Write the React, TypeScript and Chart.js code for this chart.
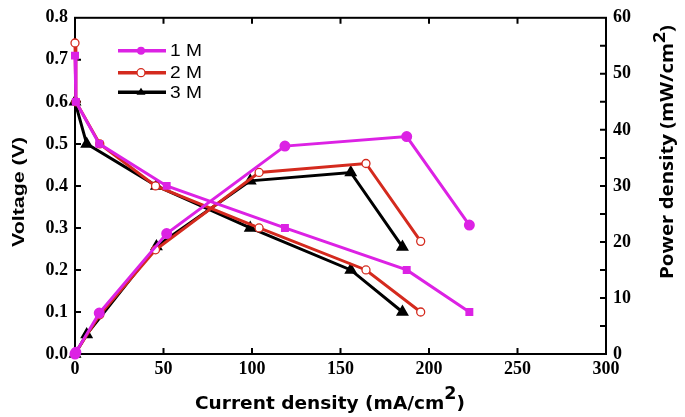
import React, { useEffect, useRef } from "react";
import { Chart, registerables } from "chart.js";

Chart.register(...registerables);

// ---- data ----
const current1M = [0, 0.5, 13.7, 51.8, 118.6, 187.4, 222.8];
const voltage1M = [0.71, 0.6, 0.5, 0.4, 0.3, 0.2, 0.1];
const power1M = [0, 0.3, 7.3, 21.5, 37.1, 38.8, 23.0];

const current2M = [0, 0.5, 14, 45.5, 104, 164.4, 195.3];
const voltage2M = [0.74, 0.6, 0.5, 0.4, 0.3, 0.2, 0.1];
const power2M = [0, 0.3, 7.0, 18.6, 32.4, 34.0, 20.1];

const current3M = [0, 6.6, 46, 99, 155.8, 185];
const voltage3M = [0.6, 0.5, 0.4, 0.3, 0.2, 0.1];
const power3M = [0, 3.5, 19.2, 30.9, 32.4, 19.1];

const seriesLabels = ["1 M", "2 M", "3 M"];
const xTickValues = [0, 50, 100, 150, 200, 250, 300];
const yTickValues = [0, 0.1, 0.2, 0.3, 0.4, 0.5, 0.6, 0.7, 0.8];
const y1TickValues = [0, 5, 10, 15, 20, 25, 30, 35, 40, 45, 50, 55, 60];

const MAGENTA = "#dc22e4";
const RED = "#d42a1e";
const BLACK = "#000000";

const pts = (xs: number[], ys: number[]) => xs.map((x, i) => ({ x, y: ys[i] }));

function drawFitted(
  ctx: CanvasRenderingContext2D,
  cx: number,
  cy: number,
  angle: number,
  font: string,
  supFont: string,
  main: string,
  sup: string,
  tail: string,
  targetLen: number,
  supRaise: number
) {
  ctx.save();
  ctx.font = font;
  const w1 = ctx.measureText(main).width;
  const w3 = ctx.measureText(tail).width;
  ctx.font = supFont;
  const w2 = sup ? ctx.measureText(sup).width : 0;
  const total = w1 + w2 + w3;
  const s = targetLen / total;
  ctx.translate(cx, cy);
  ctx.rotate(angle);
  ctx.scale(s, 1);
  ctx.fillStyle = "#000";
  ctx.textBaseline = "middle";
  ctx.textAlign = "left";
  let x = -total / 2;
  ctx.font = font;
  ctx.fillText(main, x, 0);
  x += w1;
  if (sup) {
    ctx.font = supFont;
    ctx.fillText(sup, x, -supRaise);
    x += w2;
  }
  ctx.font = font;
  ctx.fillText(tail, x, 0);
  ctx.restore();
}

const framePlugin = {
  id: "frameAndExtras",
  beforeDatasetsDraw(chart: any) {
    const { ctx, chartArea } = chart;
    const { left, right, top, bottom } = chartArea;
    const xs = chart.scales.x;
    const ys = chart.scales.y;
    const y1s = chart.scales.y1;
    ctx.save();
    ctx.strokeStyle = "#000";
    ctx.lineWidth = 2;
    ctx.strokeRect(left, top, right - left, bottom - top);
    ctx.beginPath();
    xTickValues.slice(1, -1).forEach((v) => {
      const px = xs.getPixelForValue(v);
      ctx.moveTo(px, bottom);
      ctx.lineTo(px, bottom - 6);
      ctx.moveTo(px, top);
      ctx.lineTo(px, top + 6);
    });
    yTickValues.slice(1, -1).forEach((v) => {
      const py = ys.getPixelForValue(v);
      ctx.moveTo(left, py);
      ctx.lineTo(left + 6, py);
    });
    y1TickValues.slice(1, -1).forEach((v) => {
      const py = y1s.getPixelForValue(v);
      ctx.moveTo(right, py);
      ctx.lineTo(right - 6, py);
    });
    ctx.stroke();
    ctx.restore();
  },
  afterDraw(chart: any) {
    const { ctx } = chart;
    // legend
    const rows = [50.7, 72.7, 92.3];
    const colors = [MAGENTA, RED, BLACK];
    rows.forEach((ry, i) => {
      ctx.save();
      ctx.strokeStyle = colors[i];
      ctx.lineWidth = 3.5;
      ctx.beginPath();
      ctx.moveTo(118, ry);
      ctx.lineTo(166, ry);
      ctx.stroke();
      const mx = 141;
      if (i === 0) {
        ctx.fillStyle = MAGENTA;
        ctx.beginPath();
        ctx.arc(mx, ry, 4, 0, Math.PI * 2);
        ctx.fill();
      } else if (i === 1) {
        ctx.fillStyle = "#fff";
        ctx.strokeStyle = RED;
        ctx.lineWidth = 1.3;
        ctx.beginPath();
        ctx.arc(mx, ry, 4, 0, Math.PI * 2);
        ctx.fill();
        ctx.stroke();
      } else {
        ctx.fillStyle = BLACK;
        ctx.beginPath();
        ctx.moveTo(mx, ry - 4.5);
        ctx.lineTo(mx + 4.5, ry + 2.5);
        ctx.lineTo(mx - 4.5, ry + 2.5);
        ctx.closePath();
        ctx.fill();
      }
      ctx.restore();
      ctx.save();
      ctx.font = '17px "Liberation Sans"';
      const w = ctx.measureText(seriesLabels[i]).width;
      ctx.translate(170, ry);
      ctx.scale(32 / w, 1);
      ctx.fillStyle = "#000";
      ctx.textBaseline = "middle";
      ctx.fillText(seriesLabels[i], 0, 1);
      ctx.restore();
    });
    // axis titles
    drawFitted(ctx, 19, 192, -Math.PI / 2, 'bold 17px "Liberation Sans"', 'bold 17px "Liberation Sans"', "Voltage (V)", "", "", 110, 0);
    drawFitted(ctx, 668, 152, -Math.PI / 2, 'bold 17px "Open Sans"', 'bold 16px "Open Sans"', "Power density (mW/cm", "2", ")", 254, 8);
    drawFitted(ctx, 330, 404, 0, 'bold 18px "DejaVu Sans"', 'bold 17px "DejaVu Sans"', "Current density (mA/cm", "2", ")", 270, 9);
  },
};

export default function App() {
  const ref = useRef<HTMLCanvasElement | null>(null);
  useEffect(() => {
    if (!ref.current) return;
    const tickFont = { family: '"Liberation Serif"', size: 18, weight: "bold" as const };
    const common = { tension: 0, borderWidth: 3, clip: 10 };
    const chart = new Chart(ref.current, {
      type: "line",
      data: {
        datasets: [
          {
            ...common,
            label: "1 M V",
            data: pts(current1M, voltage1M),
            yAxisID: "y",
            borderColor: MAGENTA,
            backgroundColor: MAGENTA,
            pointStyle: "rect",
            pointRadius: 3.5,
            pointBackgroundColor: MAGENTA,
            pointBorderColor: MAGENTA,
            order: 1,
          },
          {
            ...common,
            label: "1 M P",
            data: pts(current1M, power1M),
            yAxisID: "y1",
            borderColor: MAGENTA,
            backgroundColor: MAGENTA,
            pointStyle: "circle",
            pointRadius: 4,
            pointBackgroundColor: MAGENTA,
            pointBorderColor: MAGENTA,
            order: 1,
          },
          {
            ...common,
            label: "2 M V",
            data: pts(current2M, voltage2M),
            yAxisID: "y",
            borderColor: RED,
            backgroundColor: "#fff",
            pointStyle: "circle",
            pointRadius: 4,
            pointBorderWidth: 1.3,
            pointBackgroundColor: "#fff",
            pointBorderColor: RED,
            order: 2,
          },
          {
            ...common,
            label: "2 M P",
            data: pts(current2M, power2M),
            yAxisID: "y1",
            borderColor: RED,
            backgroundColor: "#fff",
            pointStyle: "circle",
            pointRadius: 4,
            pointBorderWidth: 1.3,
            pointBackgroundColor: "#fff",
            pointBorderColor: RED,
            order: 2,
          },
          {
            ...common,
            label: "3 M V",
            data: pts(current3M, voltage3M),
            yAxisID: "y",
            borderColor: BLACK,
            backgroundColor: BLACK,
            pointStyle: "triangle",
            pointRadius: 4.5,
            pointBackgroundColor: BLACK,
            pointBorderColor: BLACK,
            order: 3,
          },
          {
            ...common,
            label: "3 M P",
            data: pts(current3M, power3M),
            yAxisID: "y1",
            borderColor: BLACK,
            backgroundColor: BLACK,
            pointStyle: "triangle",
            pointRadius: 4.5,
            pointBackgroundColor: BLACK,
            pointBorderColor: BLACK,
            order: 3,
          },
        ],
      },
      options: {
        animation: false,
        responsive: true,
        maintainAspectRatio: false,
        layout: { padding: { top: 13, left: 0, right: 0, bottom: 0 } },
        plugins: { legend: { display: false }, tooltip: { enabled: false }, title: { display: false } },
        scales: {
          x: {
            type: "linear",
            min: 0,
            max: 300,
            afterBuildTicks: (s: any) => {
              s.ticks = xTickValues.map((v) => ({ value: v }));
            },
            ticks: { font: tickFont, color: "#000", padding: 5 },
            grid: { display: false, drawTicks: false },
            border: { display: false },
            afterFit: (s: any) => {
              s.height = 63;
            },
          },
          y: {
            type: "linear",
            position: "left",
            min: 0,
            max: 0.8,
            afterBuildTicks: (s: any) => {
              s.ticks = yTickValues.map((v) => ({ value: v }));
            },
            ticks: { font: tickFont, color: "#000", padding: 7, callback: (v: any) => Number(v).toFixed(1) },
            grid: { display: false, drawTicks: false },
            border: { display: false },
            afterFit: (s: any) => {
              s.width = 75;
            },
          },
          y1: {
            type: "linear",
            position: "right",
            min: 0,
            max: 60,
            afterBuildTicks: (s: any) => {
              s.ticks = y1TickValues.filter((v) => v % 10 === 0).map((v) => ({ value: v }));
            },
            ticks: { font: tickFont, color: "#000", padding: 7 },
            grid: { display: false, drawTicks: false },
            border: { display: false },
            afterFit: (s: any) => {
              s.width = 79;
            },
          },
        },
      },
      plugins: [framePlugin],
    });
    return () => chart.destroy();
  }, []);
  return (
    <div style={{ position: "fixed", left: 0, top: 0, width: 685, height: 417, background: "#fff" }}>
      <canvas ref={ref} />
    </div>
  );
}
